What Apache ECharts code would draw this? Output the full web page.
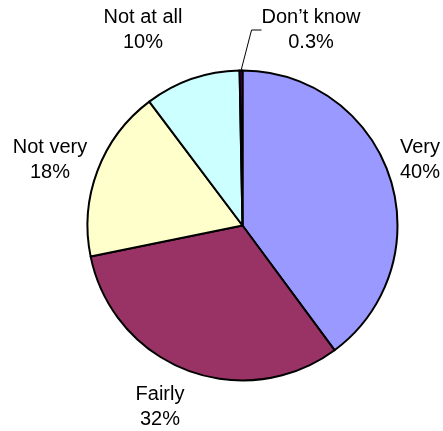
<!DOCTYPE html>
<html>
<head>
<meta charset="utf-8">
<script src="https://cdn.jsdelivr.net/npm/echarts@6/dist/echarts.min.js"></script>
<style>
html,body{margin:0;padding:0;background:#fff;}
#chart{width:443px;height:431px;}
</style>
</head>
<body>
<div id="chart"></div>
<script>
const categories = ["Very", "Fairly", "Not very", "Not at all", "Don\u2019t know"];
const values = [40, 32, 18, 10, 0.3];
const colors = ["#9999FF", "#993366", "#FFFFCC", "#CCFFFF", "#660066"];
// label block centres (layout only)
const labelPos = [[420, 160], [160, 407], [50, 160], [143, 30], [311, 30]];

const chart = echarts.init(document.getElementById('chart'), null, {renderer: 'canvas'});
const data = categories.map((c, i) => ({
  name: c,
  value: values[i],
  itemStyle: {color: colors[i]},
  labelLine: {show: i === 4}
}));

chart.setOption({
  animation: false,
  backgroundColor: '#ffffff',
  series: [{
    type: 'pie',
    center: [242.5, 225.5],
    radius: [0, 155],
    startAngle: 90,
    clockwise: true,
    avoidLabelOverlap: false,
    silent: true,
    itemStyle: {borderColor: '#000', borderWidth: 2},
    label: {
      show: true,
      position: 'outside',
      formatter: p => p.name + '\n' + p.value + '%',
      fontFamily: 'Liberation Sans, Arial, sans-serif',
      fontSize: 20,
      lineHeight: 25,
      color: '#000',
      align: 'center'
    },
    labelLine: {show: false, length: 10, length2: 10, lineStyle: {color: '#000', width: 1}},
    labelLayout: p => ({
      x: labelPos[p.dataIndex][0],
      y: labelPos[p.dataIndex][1],
      align: 'center',
      verticalAlign: 'middle'
    }),
    data: data
  }]
});
</script>
</body>
</html>
